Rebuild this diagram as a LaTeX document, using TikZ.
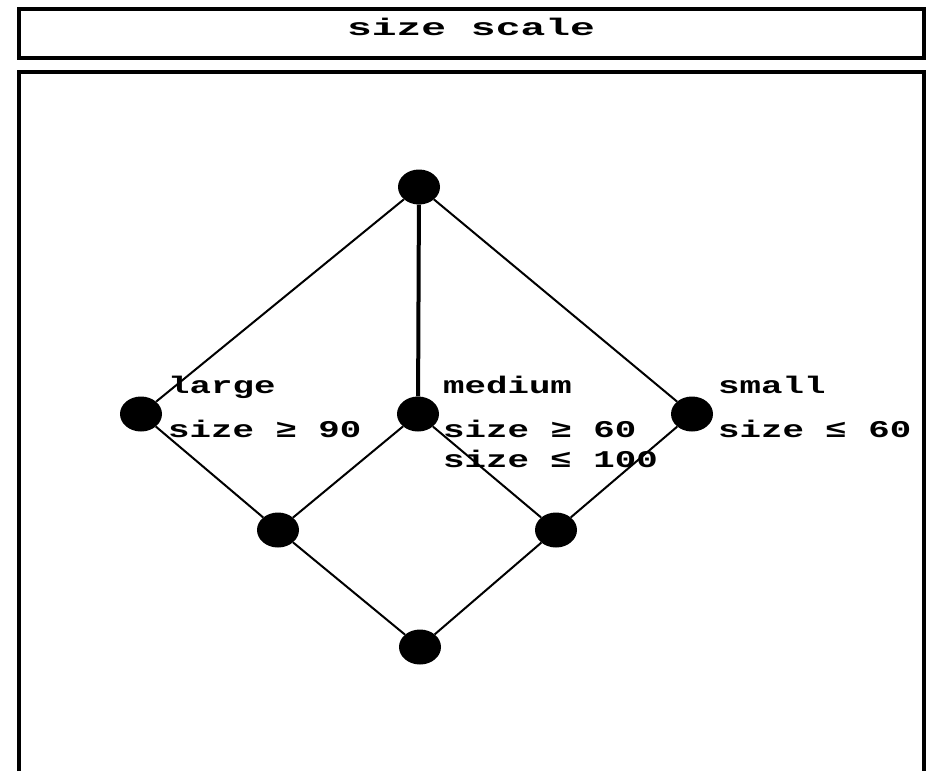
\documentclass[tikz,border=0pt]{standalone}
\usepackage{fontspec}
\setmonofont{Liberation Mono}
\usetikzlibrary{shapes.geometric}
\tikzset{
  dotnode/.style={ellipse, fill=black, draw=none, minimum width=42pt, minimum height=35pt, inner sep=0pt},
  edge/.style={line width=2pt},
  thickedge/.style={line width=4pt},
  frame/.style={line width=3.5pt},
  lbl/.style={anchor=base west, inner sep=0pt, font=\ttfamily\bfseries\fontsize{24}{24}\selectfont},
  ttl/.style={anchor=base, inner sep=0pt, font=\ttfamily\bfseries\fontsize{24}{24}\selectfont}
}
\newcommand{\hs}[1]{\scalebox{1.49}[1]{#1}}
\begin{document}
\begin{tikzpicture}[x=1pt,y=-1pt]
\useasboundingbox (0,0) rectangle (931,771);
% frames
\draw[frame] (19,9) rectangle (924,58);
\node[ttl] (title) at (471,35) {\scalebox{1.72}[1]{size scale}};
\draw[frame] (19,771) -- (19,72) -- (924,72) -- (924,771);
% nodes
\node[dotnode] (top) at (419,187) {};
\node[dotnode] (large) at (141,414) {};
\node[dotnode] (medium) at (418,414) {};
\node[dotnode] (small) at (692,414) {};
\node[dotnode] (ll) at (278,530) {};
\node[dotnode] (lr) at (556,530) {};
\node[dotnode] (bot) at (420,647) {};
% edges
\draw[edge] (top) -- (large);
\draw[thickedge] (top) -- (medium);
\draw[edge] (top) -- (small);
\draw[edge] (large) -- (ll);
\draw[edge] (medium) -- (ll);
\draw[edge] (medium) -- (lr);
\draw[edge] (small) -- (lr);
\draw[edge] (ll) -- (bot);
\draw[edge] (lr) -- (bot);
% labels
\node[lbl] (largename) at (168,393) {\hs{large}};
\node[lbl] (largecond) at (168,437) {\hs{size ≥ 90}};
\node[lbl] (mediumname) at (443,393) {\hs{medium}};
\node[lbl] (mediumcondA) at (443,437) {\hs{size ≥ 60}};
\node[lbl] (mediumcondB) at (443,467) {\hs{size ≤ 100}};
\node[lbl] (smallname) at (718,393) {\hs{small}};
\node[lbl] (smallcond) at (718,437) {\hs{size ≤ 60}};
\end{tikzpicture}
\end{document}
